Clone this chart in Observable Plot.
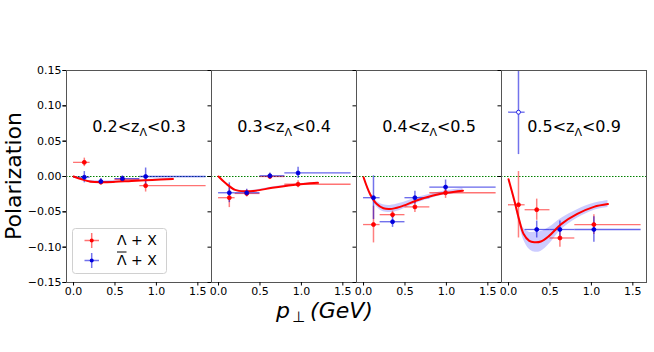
<!DOCTYPE html>
<html><head><meta charset="utf-8">
<script src="https://cdn.jsdelivr.net/npm/d3@7"></script>
<script src="https://cdn.jsdelivr.net/npm/@observablehq/plot@0.6"></script>
<style>body{margin:0;background:#fff} #chart{width:654px;height:352px}</style>
</head><body><div id="chart"></div>
<script>
// panel titles (z ranges)
const panels = ["0.2<zΛ<0.3", "0.3<zΛ<0.4", "0.4<zΛ<0.5", "0.5<zΛ<0.9"];
// pT bins
const binLo = [0.0, 0.2, 0.5, 0.8];
const binHi = [0.2, 0.5, 0.8, 1.6];
// mean pT of each point, per panel
const ptX = [
  [0.13, 0.33, 0.59, 0.87],
  [0.13, 0.34, 0.62, 0.96],
  [0.12, 0.35, 0.62, 0.99],
  [0.12, 0.34, 0.62, 1.03]
];
// Lambda + X
const lamY = [
  [0.020, -0.008, -0.004, -0.013],
  [-0.030, -0.024, 0.000, -0.011],
  [-0.068, -0.054, -0.043, -0.023],
  [-0.040, -0.047, -0.087, -0.068]
];
const lamErr = [
  [0.006, 0.004, 0.004, 0.009],
  [0.014, 0.005, 0.004, 0.005],
  [0.026, 0.005, 0.008, 0.008],
  [0.047, 0.015, 0.013, 0.014]
];
// anti-Lambda + X
const barY = [
  [-0.001, -0.007, -0.003, 0.000],
  [-0.023, -0.023, 0.001, 0.005],
  [-0.030, -0.064, -0.030, -0.015],
  [0.091, -0.075, -0.075, -0.075]
];
const barErr = [
  [0.008, 0.004, 0.004, 0.012],
  [0.014, 0.005, 0.004, 0.008],
  [0.031, 0.008, 0.009, 0.010],
  [0.060, 0.012, 0.012, 0.018]
];
const barOpen = [
  [false, false, false, false],
  [false, false, false, false],
  [false, false, false, false],
  [true, false, false, false]
];
// fit curves and uncertainty bands
const fitX = [
  [0, 0.1, 0.2, 0.33, 0.5, 0.7, 0.95, 1.2],
  [0, 0.09, 0.2, 0.32, 0.45, 0.65, 0.9, 1.2],
  [0, 0.08, 0.16, 0.24, 0.32, 0.44, 0.64, 0.84, 1.0, 1.2],
  [0, 0.07, 0.13, 0.18, 0.25, 0.31, 0.39, 0.49, 0.64, 0.83, 1.03, 1.2]
];
const fitY = [
  [0, -0.004, -0.007, -0.008, -0.0075, -0.0062, -0.0048, -0.0035],
  [0, -0.010, -0.019, -0.021, -0.020, -0.016, -0.012, -0.009],
  [-0.001, -0.025, -0.039, -0.045, -0.046, -0.043, -0.034, -0.027, -0.023, -0.020],
  [-0.004, -0.034, -0.062, -0.081, -0.091, -0.093, -0.092, -0.084, -0.067, -0.053, -0.043, -0.039]
];
const fitBand = [
  [0.001, 0.001, 0.001, 0.001, 0.001, 0.001, 0.001, 0.001],
  [0.001, 0.001, 0.001, 0.001, 0.001, 0.001, 0.001, 0.001],
  [0.001, 0.003, 0.004, 0.005, 0.005, 0.005, 0.004, 0.003, 0.003, 0.003],
  [0.001, 0.003, 0.005, 0.008, 0.012, 0.014, 0.014, 0.012, 0.008, 0.006, 0.005, 0.005]
];
const xTicks = [0, 0.5, 1.0, 1.5];
const yTicks = [-0.15, -0.10, -0.05, 0.00, 0.05, 0.10, 0.15];
const lamColor = "#ff0000";
const barColor = "#0000dd";

const points = [];
panels.forEach((p, k) => {
  ptX[k].forEach((x, i) => {
    points.push({panel: p, s: "lam", x, y: lamY[k][i], e: lamErr[k][i], lo: binLo[i], hi: binHi[i], open: false});
  });
  ptX[k].forEach((x, i) => {
    points.push({panel: p, s: "bar", x, y: barY[k][i], e: barErr[k][i], lo: binLo[i], hi: binHi[i], open: barOpen[k][i]});
  });
});
const fits = [];
panels.forEach((p, k) => fitX[k].forEach((x, i) =>
  fits.push({panel: p, x, y: fitY[k][i], b: fitBand[k][i]})));
const lam = points.filter(d => d.s === "lam");
const bar = points.filter(d => d.s === "bar");

const plot = Plot.plot({
  width: 654, height: 352,
  marginLeft: 65, marginRight: 8, marginTop: 70, marginBottom: 70,
  style: {fontFamily: "DejaVu Sans", fontSize: "11px", color: "black", background: "white"},
  fx: {domain: panels, padding: 0, axis: null},
  x: {domain: [-0.085, 1.665], label: null},
  y: {domain: [-0.15, 0.15], label: null},
  marks: [
    Plot.ruleY([0], {stroke: "green", strokeDasharray: "1.5,1.5", strokeWidth: 1}),
    Plot.areaY(fits, {fx: "panel", x: "x", y1: d => d.y - d.b, y2: d => d.y + d.b, z: "panel", fill: "blue", fillOpacity: 0.2, curve: "catmull-rom"}),
    Plot.ruleX(lam, {fx: "panel", x: "x", y1: d => d.y - d.e, y2: d => d.y + d.e, stroke: lamColor, strokeOpacity: 0.5, strokeWidth: 1.5, clip: true}),
    Plot.ruleY(lam, {fx: "panel", y: "y", x1: "lo", x2: "hi", stroke: lamColor, strokeOpacity: 0.55, strokeWidth: 1.3}),
    Plot.ruleX(bar, {fx: "panel", x: "x", y1: d => d.y - d.e, y2: d => d.y + d.e, stroke: barColor, strokeOpacity: 0.55, strokeWidth: 1.5, clip: true}),
    Plot.ruleY(bar, {fx: "panel", y: "y", x1: "lo", x2: "hi", stroke: barColor, strokeOpacity: 0.6, strokeWidth: 1.3}),
    Plot.line(fits, {fx: "panel", x: "x", y: "y", z: "panel", stroke: "red", strokeWidth: 2, curve: "catmull-rom"}),
    Plot.dot(lam, {fx: "panel", x: "x", y: "y", r: 2, fill: lamColor, stroke: lamColor, strokeWidth: 0.8}),
    Plot.dot(bar, {fx: "panel", x: "x", y: "y", r: 2, fill: d => d.open ? "white" : barColor, stroke: barColor, strokeWidth: 0.8}),
    Plot.text(panels, {fx: d => d, text: d => d, frameAnchor: "top", lineAnchor: "top", dy: 50, fontSize: 16, fill: "black"}),
    Plot.frame({stroke: "#555", strokeWidth: 1}),
    Plot.axisX(xTicks, {tickFormat: d3.format(".1f"), tickSize: 3.5, tickPadding: 1, fontSize: 11, label: null}),
    Plot.axisY(yTicks, {tickFormat: d3.format(".2f"), tickSize: 3.5, tickPadding: 1.5, fontSize: 11, label: null}),
    Plot.axisY(yTicks, {facetAnchor: null, tickFormat: () => "", tickSize: 3.5, label: null})
  ]
});
document.getElementById("chart").appendChild(plot);

const svg = d3.select(plot);
// subscript Λ in panel titles
svg.selectAll("text").each(function() {
  const t = this.textContent;
  if (panels.includes(t)) {
    const parts = t.split("Λ");
    const el = d3.select(this);
    el.text(null);
    el.append("tspan").text(parts[0]);
    el.append("tspan").attr("font-size", 11).attr("dy", 4).text("Λ");
    el.append("tspan").attr("dy", -4).text(parts[1]);
  }
});
// axis titles
svg.append("text").attr("transform", "translate(21,176) rotate(-90)")
  .attr("text-anchor", "middle").attr("font-size", 22).attr("fill", "black")
  .text("Polarization");
const xl = svg.append("text").attr("x", 276).attr("y", 318).attr("font-size", 22)
  .attr("text-anchor", "start").attr("fill", "black");
xl.append("tspan").attr("font-style", "italic").text("p");
xl.append("tspan").attr("font-size", 15).attr("dy", 4).attr("dx", 2).text("⊥");
xl.append("tspan").attr("font-style", "italic").attr("dy", -4).attr("dx", 5).text("(GeV)");
// legend
const lg = svg.append("g").attr("text-anchor", "start");
lg.append("rect").attr("x", 72.5).attr("y", 228.5).attr("width", 94).attr("height", 45).attr("rx", 3)
  .attr("fill", "white").attr("fill-opacity", 0.8).attr("stroke", "#d0d0d0");
[[lamColor, 240.5, "Λ + X", false], [barColor, 260.5, "Λ + X", true]].forEach(([c, y, label, over]) => {
  lg.append("line").attr("x1", 84.5).attr("x2", 99).attr("y1", y).attr("y2", y).attr("stroke", c).attr("stroke-opacity", 0.55).attr("stroke-width", 1.5);
  lg.append("line").attr("x1", 91.7).attr("x2", 91.7).attr("y1", y - 7.5).attr("y2", y + 7.5).attr("stroke", c).attr("stroke-opacity", 0.55).attr("stroke-width", 1.5);
  lg.append("circle").attr("cx", 91.7).attr("cy", y).attr("r", 2).attr("fill", c);
  lg.append("text").attr("x", 117).attr("y", y + 4.8).attr("font-size", 14).attr("text-anchor", "start").attr("fill", "black").text(label);
  if (over) lg.append("line").attr("x1", 117).attr("x2", 126.5).attr("y1", y - 8.5).attr("y2", y - 8.5).attr("stroke", "black").attr("stroke-width", 1);
});
</script>
</body></html>
